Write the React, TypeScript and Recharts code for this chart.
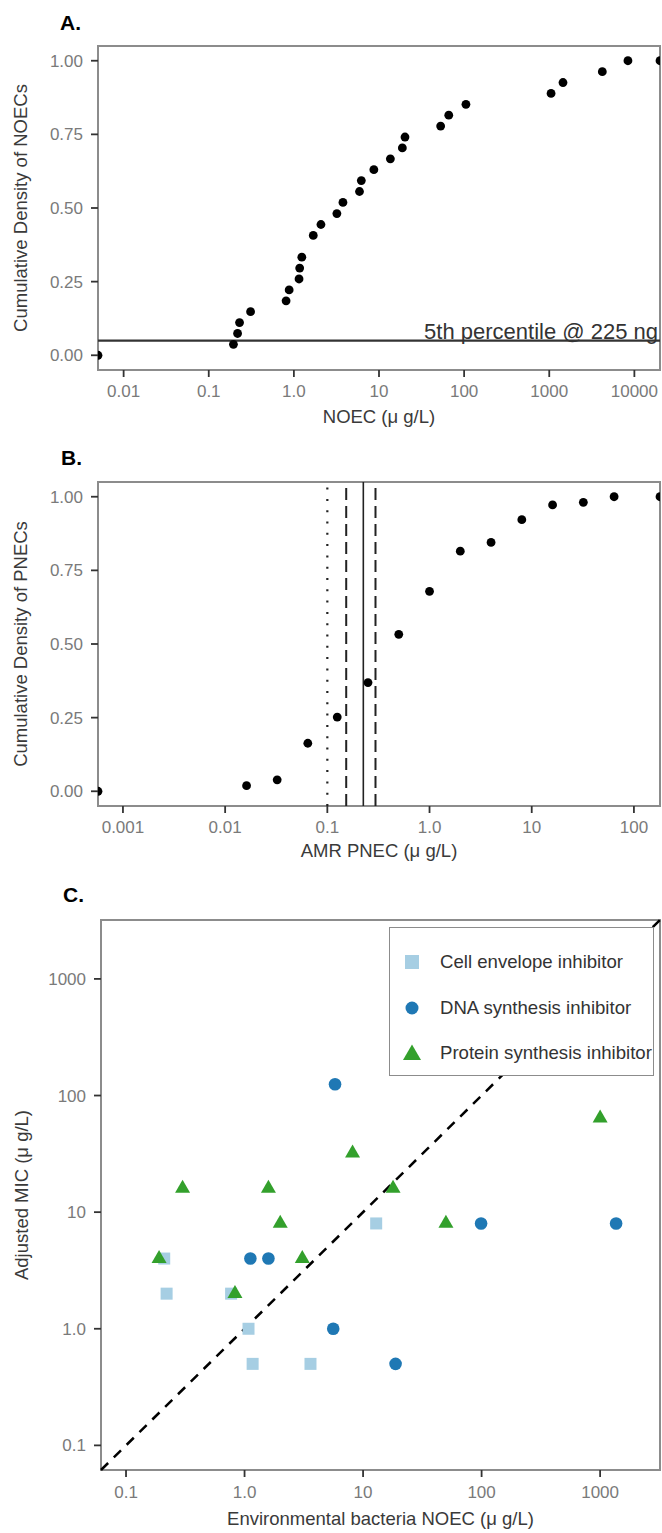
import React from 'react';
import { ScatterChart, Scatter, XAxis, YAxis, ReferenceLine, ReferenceArea, Label } from 'recharts';

const FONT = '"Liberation Sans", Arial, Helvetica, sans-serif';

// A. cumulative density of NOECs (ug/L)
const noecValues = [0.005, 0.195, 0.218, 0.23, 0.31, 0.81, 0.88, 1.15, 1.17, 1.24, 1.69, 2.08, 3.2, 3.77, 5.9, 6.2, 8.7, 13.6, 18.8, 20.2, 53, 66, 105, 1050, 1450, 4200, 8400, 20000];
const noecCumDensity = [0, 0.037, 0.074, 0.111, 0.148, 0.185, 0.222, 0.259, 0.296, 0.333, 0.407, 0.444, 0.481, 0.519, 0.556, 0.593, 0.63, 0.667, 0.704, 0.741, 0.778, 0.815, 0.852, 0.889, 0.926, 0.963, 1, 1];
const noecTicks = [0.01, 0.1, 1, 10, 100, 1000, 10000];
const noecTickLabels = ['0.01', '0.1', '1.0', '10', '100', '1000', '10000'];
const noecDomain = [0.005, 20000];
const fifthPercentile = 0.05;

// B. cumulative density of AMR PNECs (ug/L)
const pnecValues = [0.00057, 0.0162, 0.0323, 0.0644, 0.125, 0.25, 0.5, 1, 2, 4, 8, 16, 32, 64, 180];
const pnecCumDensity = [0, 0.019, 0.039, 0.163, 0.252, 0.369, 0.533, 0.679, 0.815, 0.845, 0.922, 0.972, 0.981, 1, 1];
const pnecTicks = [0.001, 0.01, 0.1, 1, 10, 100];
const pnecTickLabels = ['0.001', '0.01', '0.1', '1.0', '10', '100'];
const pnecDomain = [0.00057, 180];
const pnecDotted = 0.1;
const pnecLower = 0.153;
const pnecMedian = 0.225;
const pnecUpper = 0.296;

const cdfTicks = [0, 0.25, 0.5, 0.75, 1];
const cdfTickLabels = ['0.00', '0.25', '0.50', '0.75', '1.00'];
const cdfDomain = [-0.05, 1.05];

// C. NOEC vs adjusted MIC by mode of action
const cellEnvelopeNoec = [0.21, 0.22, 0.77, 1.08, 1.17, 3.6, 12.9];
const cellEnvelopeMic = [4, 2, 2, 1, 0.5, 0.5, 8];
const dnaNoec = [5.8, 1.12, 1.59, 5.6, 18.8, 99, 1364];
const dnaMic = [125, 4, 4, 1, 0.5, 8, 8];
const proteinNoec = [0.19, 0.3, 0.83, 1.59, 2.0, 3.07, 8.15, 17.9, 50, 1000];
const proteinMic = [4, 16, 2, 16, 8, 4, 32, 16, 8, 64];
const logTicksC = [0.1, 1, 10, 100, 1000];
const logTickLabelsC = ['0.1', '1.0', '10', '100', '1000'];
const domainC = [0.0615, 3200];

const LIGHT_BLUE = '#a6cee3';
const BLUE = '#1f78b4';
const GREEN = '#33a02c';

const toPoints = (xs: number[], ys: number[]) => xs.map((x, i) => ({ x, y: ys[i] }));

const tickStyle = { fill: '#7a7a7a', fontSize: 17, fontFamily: FONT };
const tickLineStyle = { stroke: '#333', strokeWidth: 1.8 };
const titleStyle = { fill: '#3a3a3a', fontSize: 18.5, fontFamily: FONT };
const borderColor = '#8c8c8c';

const fmt = (ticks: number[], labels: string[]) => (v: number) => labels[ticks.indexOf(v)] ?? String(v);

const BlackDot = (p: any) => <circle cx={p.cx} cy={p.cy} r={4.4} fill="#000" />;
const SquareMark = (p: any) => <rect x={p.cx - 6} y={p.cy - 6} width={12} height={12} fill={LIGHT_BLUE} />;
const CircleMark = (p: any) => <circle cx={p.cx} cy={p.cy} r={6.3} fill={BLUE} />;
const TriangleMark = (p: any) => {
  const s = 15;
  const h = (s * Math.sqrt(3)) / 2;
  const top = p.cy - (2 * h) / 3;
  const base = p.cy + h / 3;
  return <polygon points={`${p.cx},${top} ${p.cx - s / 2},${base} ${p.cx + s / 2},${base}`} fill={GREEN} />;
};

const legendItems = [
  { label: 'Cell envelope inhibitor', mark: 'square' },
  { label: 'DNA synthesis inhibitor', mark: 'circle' },
  { label: 'Protein synthesis inhibitor', mark: 'triangle' },
];

function LegendKey({ mark }: { mark: string }) {
  return (
    <svg width={26} height={24} style={{ display: 'block' }}>
      {mark === 'square' && <rect x={6} y={5} width={14} height={14} fill={LIGHT_BLUE} />}
      {mark === 'circle' && <circle cx={13} cy={12} r={6.5} fill={BLUE} />}
      {mark === 'triangle' && <polygon points="13,3.5 4,19 22,19" fill={GREEN} />}
    </svg>
  );
}

export default function App() {
  const noecPoints = toPoints(noecValues, noecCumDensity);
  const pnecPoints = toPoints(pnecValues, pnecCumDensity);

  return (
    <div style={{ position: 'absolute', left: 0, top: 0, width: 662, height: 1533, background: '#fff', fontFamily: FONT }}>
      <svg width={662} height={1533} style={{ position: 'absolute', left: 0, top: 0 }}>
        <text x={60} y={30} fontSize={21} fontWeight="bold" fontFamily={FONT}>A.</text>
        <text x={61} y={465} fontSize={21} fontWeight="bold" fontFamily={FONT}>B.</text>
        <text x={63} y={902} fontSize={21} fontWeight="bold" fontFamily={FONT}>C.</text>
      </svg>

      {/* A */}
      <div style={{ position: 'absolute', left: 0, top: 0 }}>
        <ScatterChart width={662} height={440} margin={{ top: 46, right: 2, bottom: 0, left: 0 }}>
          <XAxis
            type="number" dataKey="x" scale="log" domain={noecDomain} allowDataOverflow
            ticks={noecTicks} interval={0} tickFormatter={fmt(noecTicks, noecTickLabels)}
            height={70} tick={tickStyle} tickLine={tickLineStyle} tickSize={7} tickMargin={8} axisLine={false}
          >
            <Label value="NOEC (μ g/L)" position="insideBottom" offset={17} style={titleStyle} />
          </XAxis>
          <YAxis
            type="number" dataKey="y" domain={cdfDomain} allowDataOverflow
            ticks={cdfTicks} interval={0} tickFormatter={fmt(cdfTicks, cdfTickLabels)}
            width={98} tick={tickStyle} tickLine={tickLineStyle} tickSize={7} tickMargin={8} axisLine={false}
          >
            <Label value="Cumulative Density of NOECs" angle={-90} position="insideLeft" offset={20} style={{ ...titleStyle, textAnchor: 'middle' }} />
          </YAxis>
          <ReferenceArea x1={noecDomain[0]} x2={noecDomain[1]} y1={cdfDomain[0]} y2={cdfDomain[1]} fill="none" stroke={borderColor} strokeWidth={2} ifOverflow="visible" />
          <ReferenceLine
            y={fifthPercentile} stroke="#333" strokeWidth={2.2}
            label={{ value: '5th percentile @ 225 ng', position: 'insideBottomRight', offset: 2, fill: '#333', fontSize: 22, fontFamily: FONT }}
          />
          <Scatter data={noecPoints} shape={BlackDot} isAnimationActive={false} />
        </ScatterChart>
      </div>

      {/* B */}
      <div style={{ position: 'absolute', left: 0, top: 440 }}>
        <ScatterChart width={662} height={430} margin={{ top: 42, right: 2, bottom: 0, left: 0 }}>
          <XAxis
            type="number" dataKey="x" scale="log" domain={pnecDomain} allowDataOverflow
            ticks={pnecTicks} interval={0} tickFormatter={fmt(pnecTicks, pnecTickLabels)}
            height={64} tick={tickStyle} tickLine={tickLineStyle} tickSize={7} tickMargin={8} axisLine={false}
          >
            <Label value="AMR PNEC (μ g/L)" position="insideBottom" offset={13} style={titleStyle} />
          </XAxis>
          <YAxis
            type="number" dataKey="y" domain={cdfDomain} allowDataOverflow
            ticks={cdfTicks} interval={0} tickFormatter={fmt(cdfTicks, cdfTickLabels)}
            width={98} tick={tickStyle} tickLine={tickLineStyle} tickSize={7} tickMargin={8} axisLine={false}
          >
            <Label value="Cumulative Density of PNECs" angle={-90} position="insideLeft" offset={20} style={{ ...titleStyle, textAnchor: 'middle' }} />
          </YAxis>
          <ReferenceArea x1={pnecDomain[0]} x2={pnecDomain[1]} y1={cdfDomain[0]} y2={cdfDomain[1]} fill="none" stroke={borderColor} strokeWidth={2} ifOverflow="visible" />
          <ReferenceLine x={pnecDotted} stroke="#222" strokeWidth={2.2} strokeDasharray="2 9.3" />
          <ReferenceLine x={pnecLower} stroke="#222" strokeWidth={2} strokeDasharray="12 6" />
          <ReferenceLine x={pnecMedian} stroke="#222" strokeWidth={1.6} />
          <ReferenceLine x={pnecUpper} stroke="#222" strokeWidth={2} strokeDasharray="12 6" />
          <Scatter data={pnecPoints} shape={BlackDot} isAnimationActive={false} />
        </ScatterChart>
      </div>

      {/* C */}
      <div style={{ position: 'absolute', left: 0, top: 870, width: 662, height: 663 }}>
        <ScatterChart width={662} height={663} margin={{ top: 50, right: 2, bottom: 0, left: 0 }}>
          <XAxis
            type="number" dataKey="x" scale="log" domain={domainC} allowDataOverflow
            ticks={logTicksC} interval={0} tickFormatter={fmt(logTicksC, logTickLabelsC)}
            height={63} tick={tickStyle} tickLine={tickLineStyle} tickSize={7} tickMargin={9} axisLine={false}
          >
            <Label value="Environmental bacteria NOEC (μ g/L)" position="insideBottom" offset={8.5} style={titleStyle} />
          </XAxis>
          <YAxis
            type="number" dataKey="y" scale="log" domain={domainC} allowDataOverflow
            ticks={logTicksC} interval={0} tickFormatter={fmt(logTicksC, logTickLabelsC)}
            width={101} tick={tickStyle} tickLine={tickLineStyle} tickSize={7} tickMargin={8} axisLine={false}
          >
            <Label value="Adjusted MIC (μ g/L)" angle={-90} position="insideLeft" offset={21} style={{ ...titleStyle, textAnchor: 'middle' }} />
          </YAxis>
          <ReferenceArea x1={domainC[0]} x2={domainC[1]} y1={domainC[0]} y2={domainC[1]} fill="none" stroke={borderColor} strokeWidth={2} ifOverflow="visible" />
          <ReferenceLine
            segment={[{ x: domainC[0], y: domainC[0] }, { x: domainC[1], y: domainC[1] }]}
            stroke="#000" strokeWidth={2.5} strokeDasharray="10 8" ifOverflow="visible"
          />
          <Scatter name="Cell envelope inhibitor" data={toPoints(cellEnvelopeNoec, cellEnvelopeMic)} shape={SquareMark} isAnimationActive={false} />
          <Scatter name="DNA synthesis inhibitor" data={toPoints(dnaNoec, dnaMic)} shape={CircleMark} isAnimationActive={false} />
          <Scatter name="Protein synthesis inhibitor" data={toPoints(proteinNoec, proteinMic)} shape={TriangleMark} isAnimationActive={false} />
        </ScatterChart>

        <div
          style={{
            position: 'absolute', left: 389, top: 57, width: 265, height: 149, boxSizing: 'border-box',
            border: '1.5px solid #8c8c8c', background: '#fff',
          }}
        >
          {legendItems.map((item, i) => (
            <div
              key={item.label}
              style={{
                position: 'absolute', left: 9, top: 22 + i * 45.5, height: 24,
                display: 'flex', alignItems: 'center', whiteSpace: 'nowrap',
              }}
            >
              <LegendKey mark={item.mark} />
              <span style={{ marginLeft: 15, fontSize: 18.6, color: '#333', fontFamily: FONT }}>{item.label}</span>
            </div>
          ))}
        </div>
      </div>
    </div>
  );
}
